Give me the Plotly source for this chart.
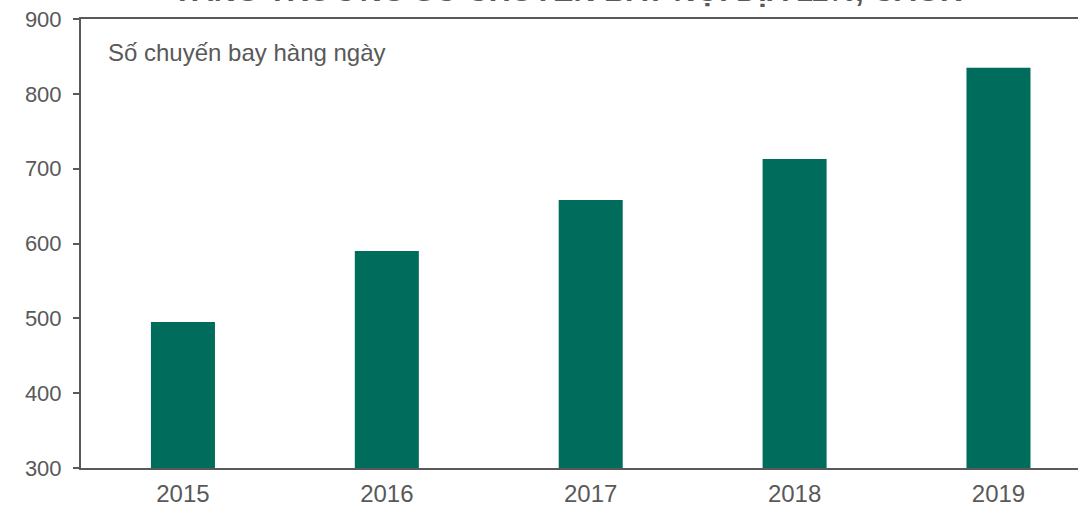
import plotly.graph_objects as go

years = ["2015", "2016", "2017", "2018", "2019"]
flights = [495, 590, 658, 713, 835]
y_ticks = [300, 400, 500, 600, 700, 800, 900]

title_text = "TĂNG TRƯỞNG SỐ CHUYẾN BAY NỘI ĐỊA 11%, CAGR"
note_text = "Số chuyến bay hàng ngày"

grey = "#595959"
green = "#006C5B"

fig = go.Figure()
fig.add_trace(go.Bar(
    x=list(range(len(years))), y=flights,
    marker=dict(color=green, line=dict(width=0)),
    width=0.314,
))

fig.update_layout(
    width=1078, height=507,
    margin=dict(l=81, r=0, t=19, b=39, autoexpand=False),
    paper_bgcolor="white", plot_bgcolor="white",
    showlegend=False,
    font=dict(family="Arial, Liberation Sans, sans-serif", size=23, color=grey),
    xaxis=dict(
        range=[-0.5, 4.39], automargin=False,
        tickmode="array", tickvals=list(range(len(years))), ticktext=years,
        showline=True, linecolor=grey, linewidth=2, mirror=True,
        showgrid=False, ticks="", zeroline=False,
        ticklabelstandoff=3,
        tickfont=dict(size=24, color=grey),
    ),
    yaxis=dict(
        range=[300, 900], tickvals=y_ticks, automargin=False,
        showline=True, linecolor=grey, linewidth=2,
        showgrid=False, zeroline=False,
        ticks="outside", ticklen=6, tickcolor=grey, tickwidth=1.5,
        ticklabeloverflow="allow", ticklabelstandoff=7,
        tickfont=dict(size=22, color=grey),
    ),
    annotations=[
        dict(text=note_text, xref="paper", yref="paper", x=0.025, y=0.925,
             xanchor="left", yanchor="middle", showarrow=False,
             font=dict(size=24, color=grey)),
        dict(text="<b>" + title_text + "</b>", xref="paper", yref="paper",
             x=0.488, y=1.0, xanchor="center", yanchor="bottom", showarrow=False,
             yshift=10, font=dict(size=30.5, color=grey)),
    ],
)

fig.write_html("out.html", config={"displayModeBar": False},
               post_script="document.body.style.margin='0';document.body.style.overflow='hidden';")
